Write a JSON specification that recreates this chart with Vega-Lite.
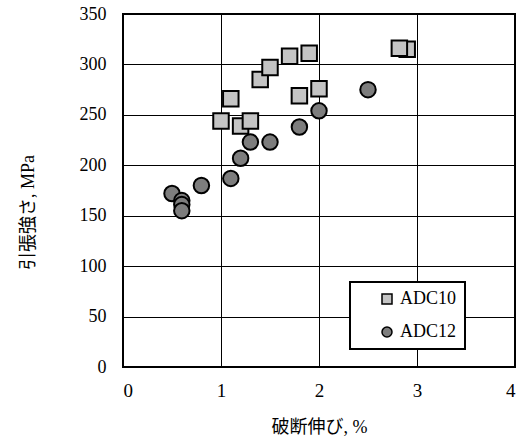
{
  "$schema": "https://vega.github.io/schema/vega-lite/v6.json",
  "width": 392,
  "height": 353,
  "autosize": {"type": "none"},
  "padding": {"left": 123, "top": 14, "right": 11, "bottom": 72},
  "background": "white",
  "data": {
    "values": [
      {"series": "ADC10", "elong": 1.1, "strength": 266},
      {"series": "ADC10", "elong": 1.0, "strength": 244},
      {"series": "ADC10", "elong": 1.2, "strength": 239},
      {"series": "ADC10", "elong": 1.3, "strength": 244},
      {"series": "ADC10", "elong": 1.4, "strength": 285},
      {"series": "ADC10", "elong": 1.5, "strength": 297},
      {"series": "ADC10", "elong": 1.7, "strength": 308},
      {"series": "ADC10", "elong": 1.9, "strength": 311},
      {"series": "ADC10", "elong": 1.8, "strength": 269},
      {"series": "ADC10", "elong": 2.0, "strength": 276},
      {"series": "ADC10", "elong": 2.9, "strength": 315},
      {"series": "ADC10", "elong": 2.82, "strength": 316},
      {"series": "ADC12", "elong": 2.5, "strength": 275},
      {"series": "ADC12", "elong": 2.0, "strength": 254},
      {"series": "ADC12", "elong": 1.8, "strength": 238},
      {"series": "ADC12", "elong": 1.5, "strength": 223},
      {"series": "ADC12", "elong": 1.3, "strength": 223},
      {"series": "ADC12", "elong": 1.2, "strength": 207},
      {"series": "ADC12", "elong": 1.1, "strength": 187},
      {"series": "ADC12", "elong": 0.8, "strength": 180},
      {"series": "ADC12", "elong": 0.5, "strength": 172},
      {"series": "ADC12", "elong": 0.6, "strength": 165},
      {"series": "ADC12", "elong": 0.6, "strength": 161},
      {"series": "ADC12", "elong": 0.6, "strength": 155}
    ]
  },
  "mark": {"type": "point", "filled": true, "size": 240, "stroke": "black", "strokeWidth": 2, "opacity": 1},
  "encoding": {
    "x": {
      "field": "elong", "type": "quantitative",
      "scale": {"domain": [0, 4], "nice": false, "zero": false},
      "axis": {
        "title": "破断伸び, %",
        "values": [0, 1, 2, 3, 4],
        "format": "d",
        "labelFontSize": 19,
        "titleX": 196, "titleY": 60, "titleAlign": "center", "titleBaseline": "middle",
        "labelPadding": 14
      }
    },
    "y": {
      "field": "strength", "type": "quantitative",
      "scale": {"domain": [0, 350], "nice": false},
      "axis": {
        "title": "引張強さ, MPa",
        "values": [0, 50, 100, 150, 200, 250, 300, 350],
        "titleX": -95, "titleY": 198, "titleAngle": -90, "titleAlign": "center", "titleBaseline": "middle",
        "labelPadding": 17
      }
    },
    "shape": {
      "field": "series", "type": "nominal",
      "scale": {"domain": ["ADC10", "ADC12"], "range": ["square", "circle"]},
      "legend": {
        "title": null,
        "orient": "none",
        "legendX": 227,
        "legendY": 268,
        "padding": 8,
        "symbolOffset": 20,
        "labelOffset": 4,
        "rowPadding": 15,
        "symbolSize": 100,
        "labelExpr": "datum.label + '\u00a0\u00a0\u00a0\u00a0\u00a0\u00a0\u00a0'",
        "fillColor": "white",
        "strokeColor": "black",
        "encode": {
          "symbols": {
            "update": {
              "stroke": {"value": "black"},
              "strokeWidth": {"value": 2}
            }
          }
        }
      }
    },
    "fill": {
      "field": "series", "type": "nominal",
      "scale": {"domain": ["ADC10", "ADC12"], "range": ["#c4c4c4", "#7d7d7d"]},
      "legend": null
    }
  },
  "config": {
    "view": {"stroke": "black", "strokeWidth": 2},
    "axis": {
      "domain": false,
      "ticks": false,
      "grid": true,
      "gridColor": "black",
      "gridOpacity": 1,
      "gridWidth": 1,
      "labelFont": "Times New Roman, Liberation Serif, DejaVu Serif, serif",
      "labelFontSize": 18,
      "labelColor": "black",
      "titleFont": "Times New Roman, Liberation Serif, Noto Sans CJK JP, serif",
      "titleFontSize": 18,
      "titleFontWeight": "normal",
      "titleColor": "black"
    },
    "legend": {
      "labelFont": "Times New Roman, Liberation Serif, DejaVu Serif, serif",
      "labelFontSize": 18,
      "labelColor": "black",
      "strokeWidth": 2
    }
  }
}
